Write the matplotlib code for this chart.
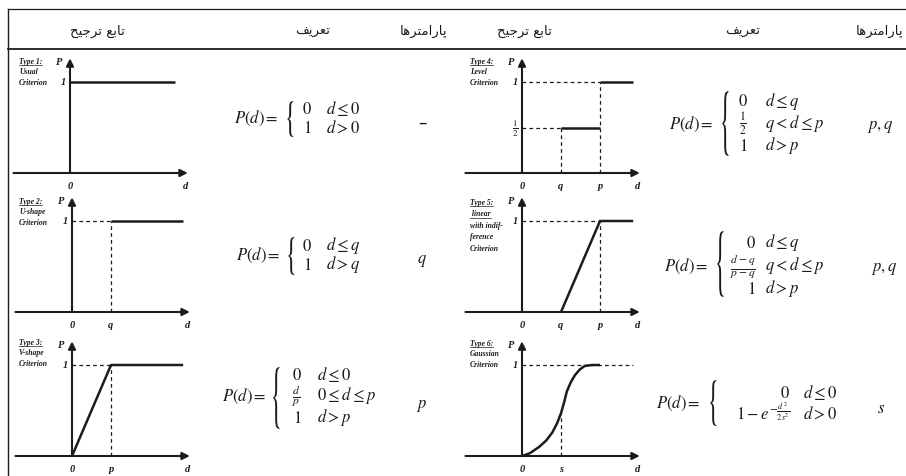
import matplotlib
matplotlib.use("Agg")
import matplotlib.pyplot as plt
from matplotlib.textpath import TextPath
from matplotlib.patches import PathPatch
from matplotlib.font_manager import FontProperties
from matplotlib.transforms import Affine2D

W, H = 906, 477
INK = "#1c1c1c"
plt.rcParams["mathtext.fontset"] = "stix"

# column headers (logical order, shaped below)
col_func = "تابع ترجیح"
col_def = "تعریف"
col_par = "پارامترها"

# labels of the six criteria
type_left = [["Type 1:", "Usual", "Criterion"],
             ["Type 2:", "U-shape", "Criterion"],
             ["Type 3:", "V-shape", "Criterion"]]
type_right = [["Type 4:", "Level", "Criterion"],
              ["Type 5:", " linear", "with indif-", "ference", "Criterion"],
              ["Type 6:", "Gaussian", "Criterion"]]

# threshold positions on the d axis
Q, P, S = 1.0, 2.0, 1.0
P_LEFT = 1.0
D_END = 2.85

# solid curves of the preference functions
usual_x, usual_y = [0, 2.7], [1, 1]
ushape_x, ushape_y = [P_LEFT, D_END], [1, 1]
vshape_x, vshape_y = [0, P_LEFT, D_END], [0, 1, 1]
level_x1, level_y1 = [Q, P], [0.5, 0.5]
level_x2, level_y2 = [P, D_END], [1, 1]
linear_x, linear_y = [Q, P, D_END], [0, 1, 1]
gauss_x = [0, 0.2, 0.44, 0.62, 0.78, 0.9, 1.0, 1.08, 1.15, 1.25, 1.36, 1.48, 1.61, 1.8, 2.0]
gauss_y = [0, 0.03, 0.10, 0.17, 0.26, 0.36, 0.47, 0.59, 0.71, 0.81, 0.89, 0.95, 0.99, 1.0, 1.0]

# formulas
f1_vals, f1_conds = [r"$0$", r"$1$"], [r"$d \leq 0$", r"$d > 0$"]
f2_vals, f2_conds = [r"$0$", r"$1$"], [r"$d \leq q$", r"$d > q$"]
f3_vals = [r"$0$", r"$\frac{d}{p}$", r"$1$"]
f3_conds = [r"$d \leq 0$", r"$0 \leq d \leq p$", r"$d > p$"]
f4_vals = [r"$0$", r"$\frac{1}{2}$", r"$1$"]
f4_conds = [r"$d \leq q$", r"$q < d \leq p$", r"$d > p$"]
f5_vals = [r"$0$", r"$\frac{d-q}{p-q}$", r"$1$"]
f5_conds = [r"$d \leq q$", r"$q < d \leq p$", r"$d > p$"]
f6_vals = [r"$0$", r"$1-e^{-\frac{d^2}{2s^2}}$"]
f6_conds = [r"$d \leq 0$", r"$d > 0$"]

params_left = ["–", r"$q$", r"$p$"]
params_right = [r"$p, q$", r"$p, q$", r"$s$"]

# arabic presentation forms: isolated, final, initial, medial
FORMS = {
    "ا": ("\uFE8D", "\uFE8E", None, None),
    "ب": ("\uFE8F", "\uFE90", "\uFE91", "\uFE92"),
    "پ": ("\uFB56", "\uFB57", "\uFB58", "\uFB59"),
    "ت": ("\uFE95", "\uFE96", "\uFE97", "\uFE98"),
    "ج": ("\uFE9D", "\uFE9E", "\uFE9F", "\uFEA0"),
    "ح": ("\uFEA1", "\uFEA2", "\uFEA3", "\uFEA4"),
    "ر": ("\uFEAD", "\uFEAE", None, None),
    "ع": ("\uFEC9", "\uFECA", "\uFECB", "\uFECC"),
    "ف": ("\uFED1", "\uFED2", "\uFED3", "\uFED4"),
    "م": ("\uFEE1", "\uFEE2", "\uFEE3", "\uFEE4"),
    "ه": ("\uFEE9", "\uFEEA", "\uFEEB", "\uFEEC"),
    "ی": ("\uFBFC", "\uFBFD", "\uFBFE", "\uFBFF"),
}


def shape(word):
    out = []
    for i, ch in enumerate(word):
        if ch not in FORMS:
            out.append(ch)
            continue
        prev = word[i - 1] if i > 0 else ""
        nxt = word[i + 1] if i + 1 < len(word) else ""
        jp = prev in FORMS and FORMS[prev][2] is not None
        jn = FORMS[ch][2] is not None and nxt in FORMS
        iso, fin, ini, med = FORMS[ch]
        out.append(med if jp and jn else fin if jp else ini if jn else iso)
    return "".join(reversed(out))


fig = plt.figure(figsize=(W / 100, H / 100), dpi=100)
base = fig.add_axes([0, 0, 1, 1])
base.set_xlim(0, W)
base.set_ylim(H, 0)
base.axis("off")

# table frame
base.plot([8, W], [10, 10], color=INK, lw=0.9)
base.plot([8, 8], [10, H], color=INK, lw=1.0)
base.plot([8, W], [50, 50], color=INK, lw=1.3)

hdr = dict(ha="center", va="center", fontsize=9.5, family="DejaVu Sans", color=INK)
for xc in (97, 524):
    base.text(xc, 31, shape(col_func), **hdr)
for xc in (313, 743):
    base.text(xc, 31, shape(col_def), **hdr)
for xc in (424, 880):
    base.text(xc, 31, shape(col_par), **hdr)

SX, SY = 39.0, 91.0
arrow = dict(arrowstyle="-|>", color=INK, lw=1.5, mutation_scale=11, shrinkA=0, shrinkB=0)
dash = dict(color=INK, lw=0.9, ls=(0, (3, 2.5)))
solid = dict(color=INK, lw=1.8, solid_capstyle="butt")
lab = dict(fontsize=7.5, family="Liberation Serif", style="italic", fontweight="bold",
           color=INK, ha="center", va="center")


def mini(ox, oy, ticks):
    l, r, t, b = ox - 62, ox + 128, oy - 125, oy + 20
    ax = fig.add_axes([l / W, 1 - b / H, (r - l) / W, (b - t) / H])
    ax.set_xlim((l - ox) / SX, (r - ox) / SX)
    ax.set_ylim((oy - b) / SY, (oy - t) / SY)
    ax.axis("off")
    ax.annotate("", xy=(3.02, 0), xytext=(-1.45, 0), arrowprops=arrow)
    ax.annotate("", xy=(0, 1.26), xytext=(0, 0), arrowprops=arrow)
    ax.text(-0.27, 1.22, "P", **lab)
    ax.text(0, -0.14, "0", **lab)
    ax.text(2.97, -0.14, "d", **lab)
    ax.text(-0.17, 1.0, "1", **lab)
    for xv, name in ticks:
        ax.text(xv, -0.14, name, **lab)
    return ax


under = []


def type_label(x, y, lines, gap=10.5):
    for i, s in enumerate(lines):
        t = base.text(x, y + i * gap, s, fontsize=5.5, family="Liberation Serif", style="italic",
                      fontweight="bold", color=INK, ha="left", va="center")
        if i == 0 or s.strip() == "linear":
            under.append(t)


# left column
ax = mini(70, 174, [])
ax.plot(usual_x, usual_y, **solid)
type_label(19, 62, type_left[0])

ax = mini(72, 313, [(P_LEFT, "q")])
ax.plot([0, P_LEFT], [1, 1], **dash)
ax.plot([P_LEFT, P_LEFT], [0, 1], **dash)
ax.plot(ushape_x, ushape_y, **solid)
type_label(19, 202, type_left[1])

ax = mini(72, 457, [(P_LEFT, "p")])
ax.plot([0, P_LEFT], [1, 1], **dash)
ax.plot([P_LEFT, P_LEFT], [0, 1], **dash)
ax.plot(vshape_x, vshape_y, **solid)
type_label(19, 343, type_left[2])

# right column
ax = mini(522, 174, [(Q, "q"), (P, "p")])
ax.plot([0, Q], [0.5, 0.5], **dash)
ax.plot([Q, Q], [0, 0.5], **dash)
ax.plot([0, P], [1, 1], **dash)
ax.plot([P, P], [0, 1], **dash)
ax.plot(level_x1, level_y1, **solid)
ax.plot(level_x2, level_y2, **solid)
ax.text(-0.17, 0.5, r"$\frac{1}{2}$", fontsize=9, color=INK, ha="center", va="center")
type_label(470, 62, type_right[0])

ax = mini(522, 313, [(Q, "q"), (P, "p")])
ax.plot([0, P], [1, 1], **dash)
ax.plot([P, P], [0, 1], **dash)
ax.plot(linear_x, linear_y, **solid)
type_label(470, 203, type_right[1], gap=11.5)

ax = mini(522, 457, [(S, "s")])
ax.plot([0, D_END], [1, 1], **dash)
ax.plot([S, S], [0, 0.47], **dash)
ax.plot(gauss_x, gauss_y, **solid)
type_label(470, 344, type_right[2])

FS = 12


def brace(x, top, bottom, w=6.5):
    tp = TextPath((0, 0), "{", size=20, prop=FontProperties(family="STIXGeneral"))
    e = tp.get_extents()
    tr = (Affine2D().translate(-e.x0, -e.y0)
          .scale(w / e.width, -(bottom - top) / e.height)
          .translate(x, bottom))
    base.add_patch(PathPatch(tr.transform_path(tp), fc=INK, ec="none"))


def formula(px, py, vals, conds, rows_y, val_x, val_ha, cond_x, bx, btop, bbot):
    base.text(px, py, r"$P(d) =$", ha="left", va="center", fontsize=FS, color=INK)
    brace(bx, btop, bbot)
    for v, c, y in zip(vals, conds, rows_y):
        base.text(val_x, y, v, ha=val_ha, va="center", fontsize=FS, color=INK)
        base.text(cond_x, y, c, ha="left", va="center", fontsize=FS, color=INK)


formula(234, 118, f1_vals, f1_conds, [109, 128], 307, "center", 326, 287, 102, 138)
formula(236, 255, f2_vals, f2_conds, [246, 265], 307, "center", 326, 288, 238, 276)
formula(222, 396, f3_vals, f3_conds, [375, 396, 418], 297, "center", 317, 273, 368, 430)
formula(669, 124, f4_vals, f4_conds, [101, 124, 146], 743, "center", 765, 722, 92, 157)
formula(664, 266, f5_vals, f5_conds, [243, 266, 289], 756, "right", 765, 717, 232, 298)
formula(656, 403, f6_vals, f6_conds, [393, 414], 790, "right", 803, 710, 381, 427)

for y, s in zip([123, 260, 405], params_left):
    base.text(422, y, s, ha="center", va="center", fontsize=FS, color=INK)
for (x, y), s in zip([(880, 126), (884, 268), (881, 408)], params_right):
    base.text(x, y, s, ha="center", va="center", fontsize=FS, color=INK)

# underline the type captions
fig.canvas.draw()
inv = base.transData.inverted()
for t in under:
    bb = t.get_window_extent()
    (x0, y0), (x1, _) = inv.transform([[bb.x0, bb.y0], [bb.x1, bb.y1]])
    base.plot([x0, x1], [y0, y0], color=INK, lw=0.5)

fig.savefig("out.png", dpi=100)
